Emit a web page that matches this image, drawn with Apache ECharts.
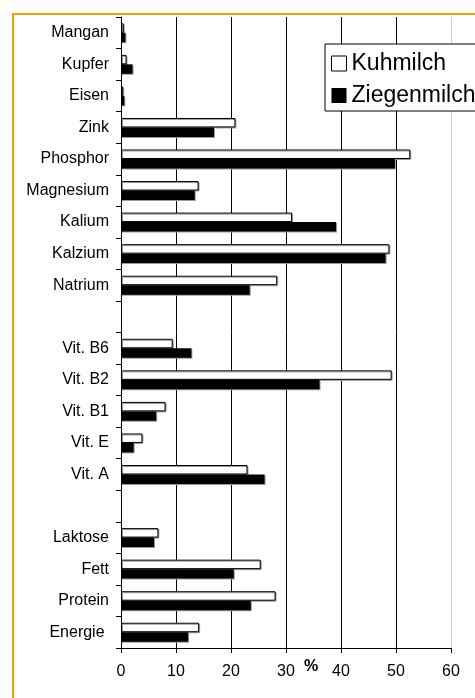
<!DOCTYPE html>
<html>
<head>
<meta charset="utf-8">
<script src="https://cdn.jsdelivr.net/npm/echarts@6/dist/echarts.min.js"></script>
<style>
    html, body { margin: 0; padding: 0; background: #fff; }
    #chart { width: 475px; height: 698px; }
</style>
</head>
<body>
<div id="chart"></div>
<script>
// categories top to bottom (blank entries are the spacer rows)
var categories = ['Mangan', 'Kupfer', 'Eisen', 'Zink', 'Phosphor', 'Magnesium', 'Kalium', 'Kalzium', 'Natrium', ' ',
    'Vit. B6', 'Vit. B2', 'Vit. B1', 'Vit. E', 'Vit. A', '  ', 'Laktose', 'Fett', 'Protein', 'Energie '];
var kuhmilch = [0.5, 1.0, 0.4, 20.8, 52.6, 14.1, 31.1, 48.8, 28.4, null,
    9.4, 49.2, 8.1, 3.9, 23.0, null, 6.8, 25.4, 28.1, 14.2];
var ziegenmilch = [0.8, 2.1, 0.6, 16.9, 49.8, 13.4, 39.1, 48.1, 23.4, null,
    12.8, 36.1, 6.4, 2.3, 26.1, null, 6.0, 20.5, 23.6, 12.2];
var xTicks = [0, 10, 20, 30, 40, 50, 60];

var font = '"Liberation Sans", Arial, sans-serif';

var chart = echarts.init(document.getElementById('chart'));
var option = {
    animation: false,
    textStyle: { fontFamily: font },
    grid: {
        left: 121,
        top: 17,
        width: 330,
        height: 631
    },
    legend: {
        orient: 'vertical',
        left: 325,
        top: 44,
        padding: [8, 6, 4, 6],
        itemWidth: 15,
        itemHeight: 15,
        itemGap: 9,
        backgroundColor: '#fff',
        borderColor: '#000',
        borderWidth: 1,
        borderRadius: 0,
        textStyle: { fontSize: 23, color: '#000', fontFamily: font },
        data: [
            { name: 'Kuhmilch', icon: 'rect', itemStyle: { color: '#fff', borderColor: '#000', borderWidth: 1, shadowBlur: 0, shadowOffsetX: 0, shadowOffsetY: 0 } },
            { name: 'Ziegenmilch', icon: 'rect', itemStyle: { color: '#000', borderWidth: 0, shadowBlur: 0, shadowOffsetX: 0, shadowOffsetY: 0 } }
        ]
    },
    xAxis: {
        type: 'value',
        min: 0,
        max: 60,
        interval: 10,
        axisLine: { show: true, lineStyle: { color: '#000', width: 1 } },
        axisTick: { show: true, length: 5, lineStyle: { color: '#000' } },
        axisLabel: {
            margin: 16,
            fontSize: 16,
            color: '#000',
            fontFamily: font,
            formatter: function (v) { return xTicks.indexOf(v) >= 0 ? String(v) : ''; }
        },
        splitLine: {
            show: true,
            lineStyle: { color: ['#000', '#000', '#000', '#000', '#000', '#000', '#cccccc'], width: 1 }
        }
    },
    yAxis: {
        type: 'category',
        inverse: true,
        data: categories,
        axisLine: { show: true, lineStyle: { color: '#000', width: 1 } },
        axisTick: { show: true, length: 5, lineStyle: { color: '#000' } },
        axisLabel: { margin: 12, fontSize: 16, color: '#000', fontFamily: font }
    },
    graphic: [
        {
            type: 'rect',
            shape: { x: 13, y: 14, width: 700, height: 900 },
            style: { fill: 'none', stroke: '#ff9900', lineWidth: 2 },
            silent: true
        },
        {
            type: 'text',
            x: 311,
            y: 667,
            style: {
                text: '%',
                font: 'bold 16px ' + font,
                fill: '#000',
                align: 'center',
                verticalAlign: 'middle'
            }
        }
    ],
    series: [
        {
            name: 'Kuhmilch',
            type: 'bar',
            barGap: '0%',
            barCategoryGap: '40%',
            itemStyle: {
                color: '#fff',
                borderColor: '#000',
                borderWidth: 1,
                shadowColor: '#999',
                shadowOffsetX: 1,
                shadowOffsetY: 1
            },
            data: kuhmilch
        },
        {
            name: 'Ziegenmilch',
            type: 'bar',
            barGap: '0%',
            barCategoryGap: '40%',
            itemStyle: {
                color: '#000',
                shadowColor: '#999',
                shadowOffsetX: 1,
                shadowOffsetY: 1
            },
            data: ziegenmilch
        }
    ]
};
chart.setOption(option);
</script>
</body>
</html>
